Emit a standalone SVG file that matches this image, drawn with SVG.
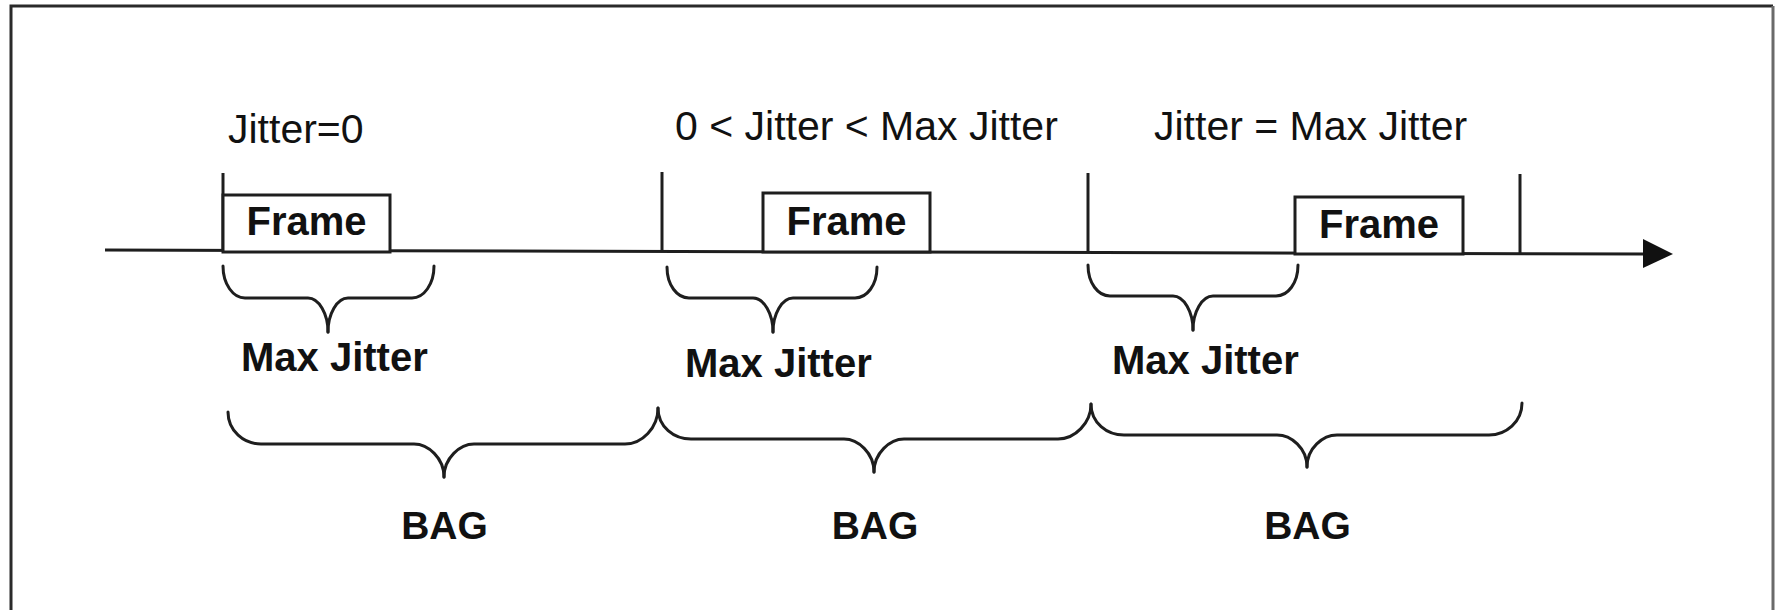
<svg xmlns="http://www.w3.org/2000/svg" width="1776" height="610" viewBox="0 0 1776 610">
  <style>
    .ln { fill: none; stroke: #1e1e1e; stroke-width: 3; stroke-linecap: butt; }
    .br { fill: none; stroke: #1e1e1e; stroke-width: 3; stroke-linecap: round; stroke-linejoin: round; }
    .box { fill: #fff; stroke: #1e1e1e; stroke-width: 3; }
    .reg { font-family: "Liberation Sans", Arial, sans-serif; font-size: 41px; fill: #111; }
    .bold { font-family: "Liberation Sans", Arial, sans-serif; font-size: 40px; font-weight: bold; fill: #111; }
    .bag { font-family: "Liberation Sans", Arial, sans-serif; font-size: 39px; font-weight: bold; fill: #111; text-anchor: middle; }
    .mid { text-anchor: middle; }
  </style>

  <rect width="1776" height="610" fill="#fff"/>

  <!-- outer frame (bottom edge lies outside the canvas) -->
  <g id="border">
    <path d="M11 620 V6 H1773" fill="none" stroke="#2a2a2a" stroke-width="3"/>
    <line x1="1773" y1="6" x2="1773" y2="620" stroke="#6a6a6a" stroke-width="3"/>
  </g>

  <!-- time axis with period ticks -->
  <g id="connectors">
    <line class="ln" x1="105" y1="250" x2="1646" y2="254"/>
    <polygon points="1643,239 1673,254 1643,268" fill="#111"/>
    <line class="ln" x1="223" y1="173" x2="223" y2="251"/>
    <line class="ln" x1="662" y1="172" x2="662" y2="252"/>
    <line class="ln" x1="1088" y1="173" x2="1088" y2="253"/>
    <line class="ln" x1="1520" y1="174" x2="1520" y2="254"/>
  </g>

  <!-- condition labels above each period -->
  <g id="labels-top">
    <text class="reg" x="228" y="143">Jitter=0</text>
    <text class="reg" x="675" y="140">0 &lt; Jitter &lt; Max Jitter</text>
    <text class="reg" x="1154" y="140">Jitter = Max Jitter</text>
  </g>

  <!-- frames on the axis -->
  <g id="frame-1">
    <rect class="box" x="223" y="195" width="167" height="57"/>
    <text class="bold mid" x="306.5" y="235">Frame</text>
  </g>
  <g id="frame-2">
    <rect class="box" x="763" y="193" width="167" height="59"/>
    <text class="bold mid" x="846.5" y="235">Frame</text>
  </g>
  <g id="frame-3">
    <rect class="box" x="1295" y="197" width="168" height="57"/>
    <text class="bold mid" x="1379" y="238">Frame</text>
  </g>

  <!-- jitter window braces -->
  <g id="jitter-1">
    <path class="br" d="M223 266 C223 284 233 298 245 298 L308 298 C319 298 328 314 328 332"/>
    <path class="br" d="M434 266 C434 284 424 298 412 298 L348 298 C337 298 328 314 328 332"/>
    <text class="bold" x="241" y="371">Max Jitter</text>
  </g>
  <g id="jitter-2">
    <path class="br" d="M667 267 C667 285 677 298 689 298 L753 298 C764 298 773 314 773 332"/>
    <path class="br" d="M877 267 C877 285 867 298 855 298 L793 298 C782 298 773 314 773 332"/>
    <text class="bold" x="685" y="377">Max Jitter</text>
  </g>
  <g id="jitter-3">
    <path class="br" d="M1088 265 C1088 283 1098 296 1110 296 L1173 296 C1184 296 1193 312 1193 330"/>
    <path class="br" d="M1298 265 C1298 283 1288 296 1276 296 L1213 296 C1202 296 1193 312 1193 330"/>
    <text class="bold" x="1112" y="374">Max Jitter</text>
  </g>

  <!-- BAG period braces -->
  <g id="bag-1">
    <path class="br" d="M228 412 C228 431 244 444 261 444 L414 444 C428 444 444 458 444 477"/>
    <path class="br" d="M658 408 C658 428 642 444 625 444 L474 444 C460 444 444 458 444 477"/>
    <text class="bag" x="444.5" y="539">BAG</text>
  </g>
  <g id="bag-2">
    <path class="br" d="M658 408 C658 427 674 439 691 439 L844 439 C858 439 874 453 874 472"/>
    <path class="br" d="M1091 404 C1091 423 1075 439 1058 439 L904 439 C890 439 874 453 874 472"/>
    <text class="bag" x="875" y="539">BAG</text>
  </g>
  <g id="bag-3">
    <path class="br" d="M1091 404 C1091 423 1107 435 1124 435 L1277 435 C1291 435 1307 448 1307 467"/>
    <path class="br" d="M1522 403 C1522 422 1506 435 1489 435 L1337 435 C1323 435 1307 448 1307 467"/>
    <text class="bag" x="1307.5" y="539">BAG</text>
  </g>
</svg>
